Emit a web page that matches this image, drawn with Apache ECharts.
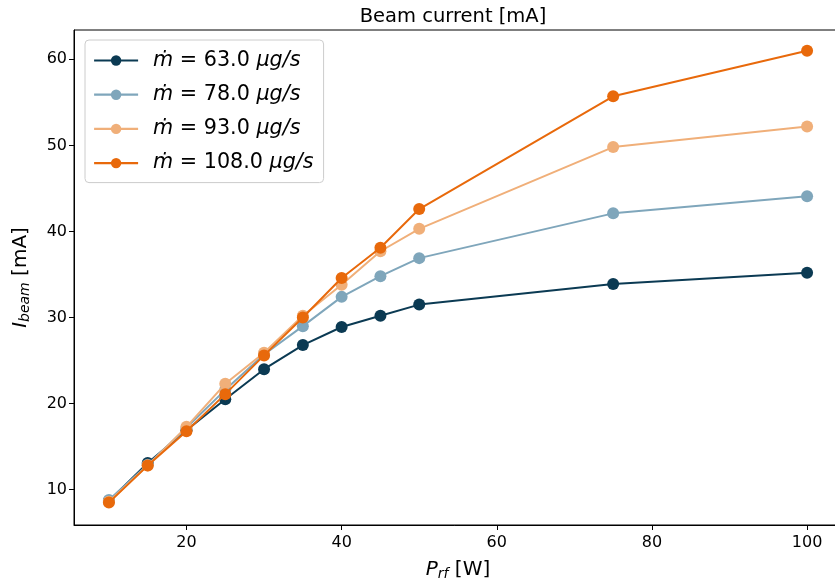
<!DOCTYPE html>
<html>
<head>
<meta charset="utf-8">
<script src="https://cdn.jsdelivr.net/npm/echarts@6/dist/echarts.min.js"></script>
<style>
  html, body { margin: 0; padding: 0; background: #fff; }
  #chart { width: 835px; height: 585px; }
</style>
</head>
<body>
<div id="chart"></div>
<script>
// RF power [W]
const power = [10, 15, 20, 25, 30, 35, 40, 45, 50, 75, 100];

// Beam current [mA] per mass flow rate
const flowRates = ['63.0', '78.0', '93.0', '108.0'];
const current63 = [8.7, 13.1, 16.9, 20.5, 24.0, 26.8, 28.9, 30.2, 31.5, 33.9, 35.2];
const current78 = [8.8, 12.9, 17.2, 21.6, 25.7, 29.0, 32.4, 34.8, 36.9, 42.1, 44.1];
const current93 = [8.6, 12.8, 17.3, 22.3, 25.9, 30.2, 33.8, 37.7, 40.3, 49.8, 52.2];
const current108 = [8.5, 12.8, 16.8, 21.1, 25.6, 30.0, 34.6, 38.1, 42.6, 55.7, 61.0];

const xTicks = [20, 40, 60, 80, 100];
const yTicks = [10, 20, 30, 40, 50, 60];

const colors = ['#0b3a53', '#7fa6bb', '#f0af79', '#e8690b'];
const FONT = 'DejaVu Sans';

const seriesValues = [current63, current78, current93, current108];
const names = flowRates.map(f => 'm' + f);

const chart = echarts.init(document.getElementById('chart'), null, { renderer: 'canvas' });

const series = seriesValues.map((vals, i) => ({
  name: names[i],
  type: 'line',
  data: power.map((p, j) => [p, vals[j]]),
  symbol: 'circle',
  symbolSize: 12,
  color: colors[i],
  lineStyle: { width: 2, color: colors[i] },
  itemStyle: { color: colors[i] },
  emphasis: { disabled: true },
  animation: false,
  z: 2 + i
}));

const subRich = {
  i: { fontFamily: FONT, fontSize: 20, fontStyle: 'italic', color: '#000' },
  s: { fontFamily: FONT, fontSize: 14, fontStyle: 'italic', color: '#000', padding: [9, 0, 0, 0], verticalAlign: 'bottom' }
};

chart.setOption({
  animation: false,
  title: {
    text: 'Beam current [mA]',
    left: 448,
    textAlign: 'center',
    top: 2,
    textStyle: { fontFamily: FONT, fontSize: 19.5, fontWeight: 'normal', color: '#000' }
  },
  grid: {
    left: 74, top: 30, width: 768, bottom: 60,
    outerBoundsMode: 'none',
    containLabel: false,
    show: true, borderColor: '#000', borderWidth: 1, backgroundColor: 'transparent'
  },
  legend: {
    left: 85, top: 40,
    orient: 'vertical',
    itemWidth: 44, itemHeight: 13,
    itemGap: 13.2,
    padding: [10, 10, 9, 8],
    backgroundColor: 'rgba(255,255,255,0.8)',
    borderColor: '#cccccc', borderWidth: 1, borderRadius: 4,
    lineStyle: { width: 2.2 },
    data: names,
    formatter: function (name) {
      const f = flowRates[names.indexOf(name)];
      return '{it|ṁ} = ' + f + ' {it|μg/s}';
    },
    textStyle: {
      fontFamily: FONT, fontSize: 20.7, color: '#000', padding: [0, 0, 0, 10],
      rich: { it: { fontFamily: FONT, fontSize: 20.7, fontStyle: 'italic', color: '#000' } }
    }
  },
  xAxis: {
    type: 'value',
    min: 5.5, max: 104.5,
    splitLine: { show: false },
    axisLine: { show: true, onZero: false, lineStyle: { color: '#000', width: 1 } },
    axisTick: { show: true, length: 5, lineStyle: { color: '#000' }, customValues: xTicks },
    axisLabel: { fontFamily: FONT, fontSize: 16, color: '#000', margin: 10, customValues: xTicks },
    name: '{i|P}{s|rf} [W]',
    nameLocation: 'middle',
    nameGap: 33,
    nameTextStyle: { fontFamily: FONT, fontSize: 20, color: '#000', rich: subRich }
  },
  yAxis: {
    type: 'value',
    min: 5.9, max: 63.4,
    splitLine: { show: false },
    axisLine: { show: true, onZero: false, lineStyle: { color: '#000', width: 1 } },
    axisTick: { show: true, length: 5, lineStyle: { color: '#000' }, customValues: yTicks },
    axisLabel: { fontFamily: FONT, fontSize: 16, color: '#000', margin: 7, customValues: yTicks },
    name: '{i|I}{s|beam} [mA]',
    nameLocation: 'middle',
    nameRotate: 90,
    nameGap: 42,
    nameTextStyle: { fontFamily: FONT, fontSize: 20, color: '#000', rich: subRich }
  },
  series: series
});
</script>
</body>
</html>
